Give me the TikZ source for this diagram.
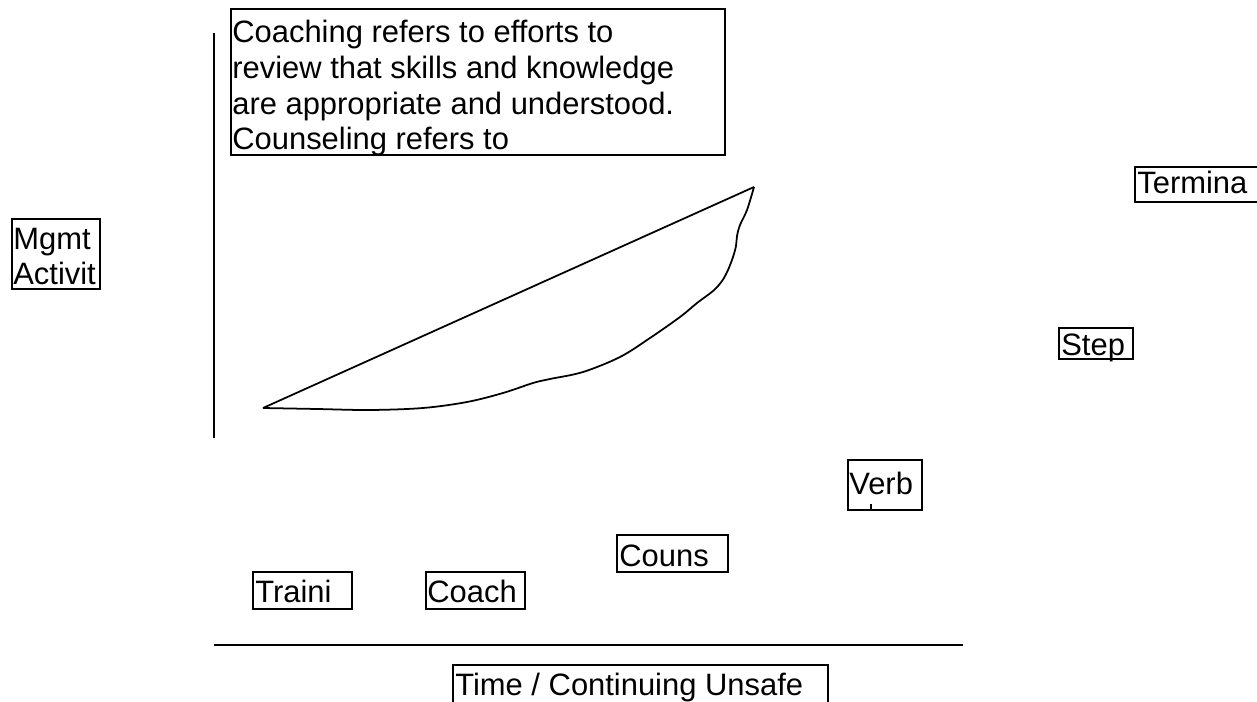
\documentclass[tikz,border=0pt]{standalone}
\usepackage{fontspec}
\setmainfont{Liberation Sans}
\usepackage{tikz}

\newcommand{\labelfont}{\fontsize{17.6}{20.4}\selectfont}

\begin{document}
\begin{tikzpicture}[x=0.02cm, y=-0.02cm,
    frame/.style={draw, line width=0.75pt},
    axis/.style={line width=0.85pt},
    outline/.style={line width=1pt, line join=round},
    caption/.style={anchor=base west, inner sep=0pt, font=\labelfont, align=left}]
    \useasboundingbox (0,0) rectangle (1257,702);

    % Achsen
    \draw[axis] (214,33) -- (214,438);
    \draw[axis] (214,645) -- (963,645);

    % Kurve
    \draw[outline] (263,408) -- (754,187);
    \draw[outline] plot[smooth, tension=0.55] coordinates {(754,187) (747,210) (740,225)
        (737,236) (736,246) (733,257) (728,270) (722,281) (713,291) (697,303) (680,317)
        (650,338) (620,357) (583,372) (550,379) (533,383) (503,393) (467,402) (423,408)
        (370,410) (317,409) (263,408)};

    % Kaesten mit Beschriftung (base = letzte Zeile)
    \begin{scope}
        \clip (231,9) rectangle (725,155);
        \node[caption] (note) at (232,150) {Coaching refers to efforts to\\review that skills and knowledge\\are appropriate and understood.\\Counseling refers to};
    \end{scope}
    \draw[frame] (231,9) rectangle (725,155);

    \draw[frame] (12,219) rectangle (100,289);
    \node[caption] (mgmt) at (13,285) {Mgmt\\Activit};

    \draw[frame] (1135,167) rectangle (1259,202);
    \node[caption] (term) at (1137,194) {Termina};

    \draw[frame] (1059,328) rectangle (1133,359);
    \node[caption] (step) at (1061,356) {Step};

    \draw[frame] (848,460) rectangle (922,510);
    \node[caption] (verb) at (849,494) {Verb};
    \draw[line width=0.9pt] (871,504) -- (871,510);

    \draw[frame] (617,535) rectangle (728,572);
    \node[caption] (couns) at (619,566) {Couns};

    \draw[frame] (253,572) rectangle (352,609);
    \node[caption] (train) at (255,602) {Traini};

    \draw[frame] (426,572) rectangle (525,609);
    \node[caption] (coach) at (427,602) {Coach};

    \draw[frame] (453,665) rectangle (828,706);
    \node[caption] (time) at (455,695) {Time / Continuing Unsafe};
\end{tikzpicture}
\end{document}
